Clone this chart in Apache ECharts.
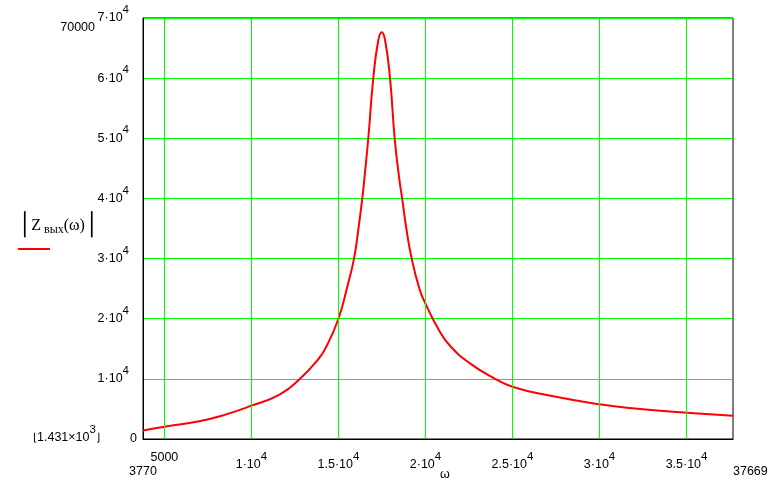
<!DOCTYPE html>
<html>
<head>
<meta charset="utf-8">
<script src="https://cdn.jsdelivr.net/npm/echarts@6/dist/echarts.min.js"></script>
<style>
  html, body { margin: 0; background: #fff; }
  #chart { width: 783px; height: 483px; }
</style>
</head>
<body>
<div id="chart"></div>
<script>
  // ω values and |Z вых(ω)|
  const omega = [3770, 5000, 7000, 8500, 10000, 11641, 12790, 13842, 14300, 15000, 15508, 15893, 16150, 16370, 16496, 16715, 17002, 17290, 17485, 17680, 17962, 18230, 18480, 18660, 18900, 19208, 19650, 19990, 20737, 21409, 22560, 23995, 24989, 26965, 29987, 32326, 35009, 37669]
  const zOut = [1431, 2050, 2950, 4050, 5540, 7430, 10000, 13260, 15340, 20000, 25330, 30000, 35000, 40000, 43500, 50000, 60000, 66300, 67630, 66300, 60000, 50000, 43600, 40000, 35000, 30000, 25000, 22570, 18300, 15500, 12580, 10000, 8700, 7300, 5770, 5000, 4380, 3880]

  const xTicks = [5000, 10000, 15000, 20000, 25000, 30000, 35000]
  const xMin = 3770
  const xMax = 37669
  const yMin = 0
  const yMax = 70000
  const yStep = 10000
  const zMinText = '1.431×10'

  const numFont = 'Liberation Sans, Arial, sans-serif'
  const sciRich = {
    m: { fontSize: 12.5, fontFamily: numFont, color: '#000' },
    e: { fontSize: 11.5, fontFamily: numFont, color: '#000', padding: [0, 0, 16, 0] },
    sp: { width: 8 }
  }

  // 1·10^4 style label
  const sci = (v) => {
    if (v < 10000) return '{m|' + v + '}'
    return '{m|' + (v / 10000) + '·10}{e|4}'
  }

  const chart = echarts.init(document.getElementById('chart'))

  chart.setOption({
    animation: false,
    backgroundColor: '#fff',
    grid: {
      left: 143,
      right: 50,
      top: 18,
      bottom: 44,
      show: true,
      borderColor: '#000',
      borderWidth: 1
    },
    xAxis: {
      type: 'value',
      min: xMin,
      max: xMax,
      axisLine: { lineStyle: { color: '#000', width: 1 } },
      axisTick: { show: false },
      splitLine: { show: false },
      axisLabel: {
        customValues: xTicks,
        margin: 12,
        formatter: sci,
        rich: sciRich
      }
    },
    yAxis: {
      type: 'value',
      min: yMin,
      max: yMax,
      interval: yStep,
      axisLine: { show: true, lineStyle: { color: '#000', width: 1 } },
      axisTick: { show: false },
      splitLine: { show: true, lineStyle: { color: '#00ff00', width: 1 } },
      axisLabel: {
        margin: 6,
        formatter: (v) => (v === 0 ? '{m|0}' : sci(v) + '{sp|}'),
        rich: sciRich
      }
    },
    series: [
      {
        // vertical green grid lines at the labelled ω values
        type: 'line',
        data: [],
        z: 1,
        silent: true,
        markLine: {
          silent: true,
          symbol: 'none',
          label: { show: false },
          lineStyle: { color: '#00ff00', width: 1, type: 'solid' },
          data: xTicks.map((v) => ({ xAxis: v }))
        }
      },
      {
        type: 'line',
        z: 3,
        data: omega.map((w, i) => [w, zOut[i]]),
        showSymbol: false,
        smooth: 0.5,
        lineStyle: { color: '#ff0000', width: 2 },
        itemStyle: { color: '#ff0000' }
      }
    ]
  })

  // extra Mathcad-style texts placed from the axes
  const [x0, y0] = chart.convertToPixel({ gridIndex: 0 }, [xMin, yMin])
  const [x1] = chart.convertToPixel({ gridIndex: 0 }, [xMax, yMin])
  const yTop = chart.convertToPixel({ gridIndex: 0 }, [xMin, yMax])[1]

  const txt = (text, x, y, align, extra) => ({
    type: 'text',
    x: x,
    y: y,
    silent: true,
    style: Object.assign({
      text: text,
      align: align,
      verticalAlign: 'middle',
      fill: '#000',
      font: '12.5px ' + numFont
    }, extra || {})
  })

  chart.setOption({
    graphic: [
      txt('3770', x0, y0 + 33, 'center'),
      txt('37669', x1, y0 + 33, 'left'),
      txt('ω', (x0 + x1) / 2 + 7, y0 + 36, 'center'),
      txt('70000', x0 - 48, yTop + 10, 'right'),
      txt('{b|⌊}{m|' + zMinText + '}{e|3}{b|⌋}', x0 - 110, y0 - 1, 'left', {
        rich: Object.assign({ b: { fontSize: 11, fontFamily: numFont, color: '#000' } }, sciRich)
      }),
      txt('{bar|│}{z|Z}{s| вых}{p|(ω)}{bar|│}', 18, 226, 'left', {
        rich: {
          bar: { fontSize: 22, fontFamily: 'DejaVu Sans', color: '#000' },
          z: { fontSize: 16, fontFamily: 'Liberation Serif', color: '#000' },
          s: { fontSize: 12, fontFamily: 'Liberation Serif', color: '#000', padding: [8, 0, 0, 0] },
          p: { fontSize: 16, fontFamily: 'Liberation Serif', color: '#000' }
        }
      }),
      {
        type: 'line',
        silent: true,
        shape: { x1: 18, y1: 249, x2: 50, y2: 249 },
        style: { stroke: '#ff0000', lineWidth: 2 }
      }
    ]
  })
</script>
</body>
</html>
